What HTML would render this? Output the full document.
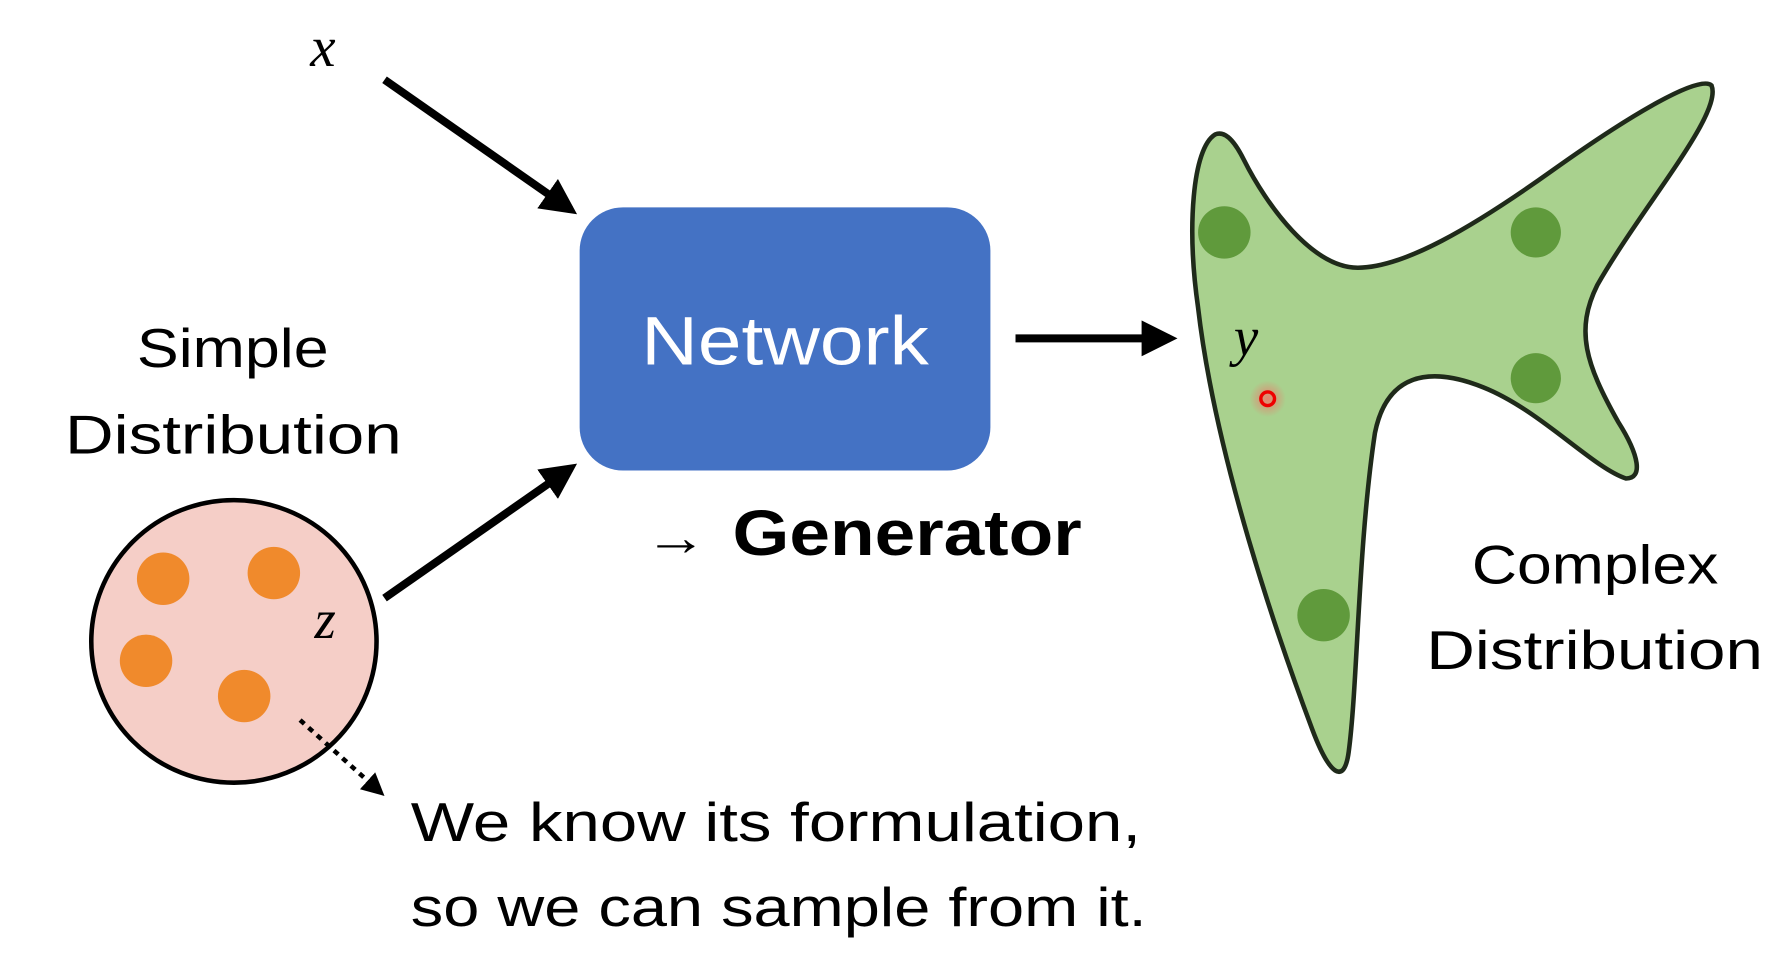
<!DOCTYPE html>
<html><head><meta charset="utf-8"><style>html,body{margin:0;padding:0;background:#fff}svg{display:block}</style></head>
<body>
<svg width="1780" height="957" viewBox="0 0 1560 840" preserveAspectRatio="none" xmlns="http://www.w3.org/2000/svg">
<defs>
<marker id="ah" markerWidth="4.5" markerHeight="4.5" refX="3.5" refY="2.25" orient="auto" markerUnits="strokeWidth"><path d="M0,0 L4.5,2.25 L0,4.5 Z" fill="#000"/></marker>
<marker id="ah2" markerWidth="5" markerHeight="5" refX="4" refY="2.5" orient="auto" markerUnits="strokeWidth"><path d="M0,0 L5,2.5 L0,5 Z" fill="#000"/></marker>
<radialGradient id="rg"><stop offset="0" stop-color="#ff6060" stop-opacity="0.7"/><stop offset="1" stop-color="#ff6060" stop-opacity="0"/></radialGradient>
</defs>
<g font-family="Liberation Sans, sans-serif">
<text x="283" y="58" font-family="Liberation Serif, serif" font-style="italic" font-size="50" text-anchor="middle">x</text>
<line x1="337" y1="70" x2="500" y2="184" stroke="#000" stroke-width="7" marker-end="url(#ah)"/>
<rect x="508" y="182" width="360" height="231" rx="38" fill="#4472C4"/>
<text x="562" y="320" fill="#fff" font-size="60" textLength="252" lengthAdjust="spacingAndGlyphs">Network</text>
<line x1="337" y1="525" x2="500" y2="411" stroke="#000" stroke-width="7" marker-end="url(#ah)"/>
<line x1="890" y1="297" x2="1025" y2="297" stroke="#000" stroke-width="7" marker-end="url(#ah)"/>
<text x="120" y="322" font-size="48" textLength="168" lengthAdjust="spacingAndGlyphs">Simple</text>
<text x="57" y="398" font-size="48" textLength="295" lengthAdjust="spacingAndGlyphs">Distribution</text>
<ellipse cx="205" cy="563" rx="125" ry="124" fill="#F5CEC7" stroke="#000" stroke-width="4"/>
<circle cx="143" cy="508" r="23" fill="#F08A2C"/>
<circle cx="240" cy="503" r="23" fill="#F08A2C"/>
<circle cx="128" cy="580" r="23" fill="#F08A2C"/>
<circle cx="214" cy="611" r="23" fill="#F08A2C"/>
<text x="285" y="560" font-family="Liberation Serif, serif" font-style="italic" font-size="48" text-anchor="middle">z</text>
<line x1="263" y1="632" x2="334" y2="696" stroke="#000" stroke-width="4" stroke-dasharray="5,5" marker-end="url(#ah2)"/>
<text x="565" y="487" font-size="46" textLength="55" lengthAdjust="spacingAndGlyphs">→</text>
<text x="642" y="487" font-size="56" font-weight="bold" textLength="306" lengthAdjust="spacingAndGlyphs">Generator</text>
<text x="360" y="738" font-size="48" textLength="640" lengthAdjust="spacingAndGlyphs">We know its formulation,</text>
<text x="360" y="813" font-size="48" textLength="645" lengthAdjust="spacingAndGlyphs">so we can sample from it.</text>
<path d="M1065,118 C1045,130 1040,200 1050,270 C1065,400 1120,560 1150,640 C1165,680 1178,690 1182,660 C1190,600 1190,480 1205,380 C1215,330 1250,320 1300,340 C1350,360 1395,410 1425,420 C1440,420 1437,400 1418,370 C1390,320 1380,290 1400,250 C1440,180 1510,100 1500,75 C1490,65 1430,100 1360,150 C1290,200 1230,235 1190,235 C1150,235 1110,180 1090,140 C1080,120 1072,115 1065,118 Z" fill="#A9D18E" stroke="#1f2a1a" stroke-width="4"/>
<circle cx="1073" cy="204" r="23" fill="#609A3C"/>
<circle cx="1346" cy="204" r="22" fill="#609A3C"/>
<circle cx="1346" cy="332" r="22" fill="#609A3C"/>
<circle cx="1160" cy="540" r="23" fill="#609A3C"/>
<text x="1092" y="312" font-family="Liberation Serif, serif" font-style="italic" font-size="48" text-anchor="middle">y</text>
<circle cx="1111" cy="350" r="16" fill="url(#rg)"/>
<circle cx="1111" cy="350" r="6" fill="none" stroke="#e00" stroke-width="3"/>
<text x="1290" y="512" font-size="48" textLength="216" lengthAdjust="spacingAndGlyphs">Complex</text>
<text x="1250" y="587" font-size="48" textLength="295" lengthAdjust="spacingAndGlyphs">Distribution</text>
</g>
</svg>
</body></html>
